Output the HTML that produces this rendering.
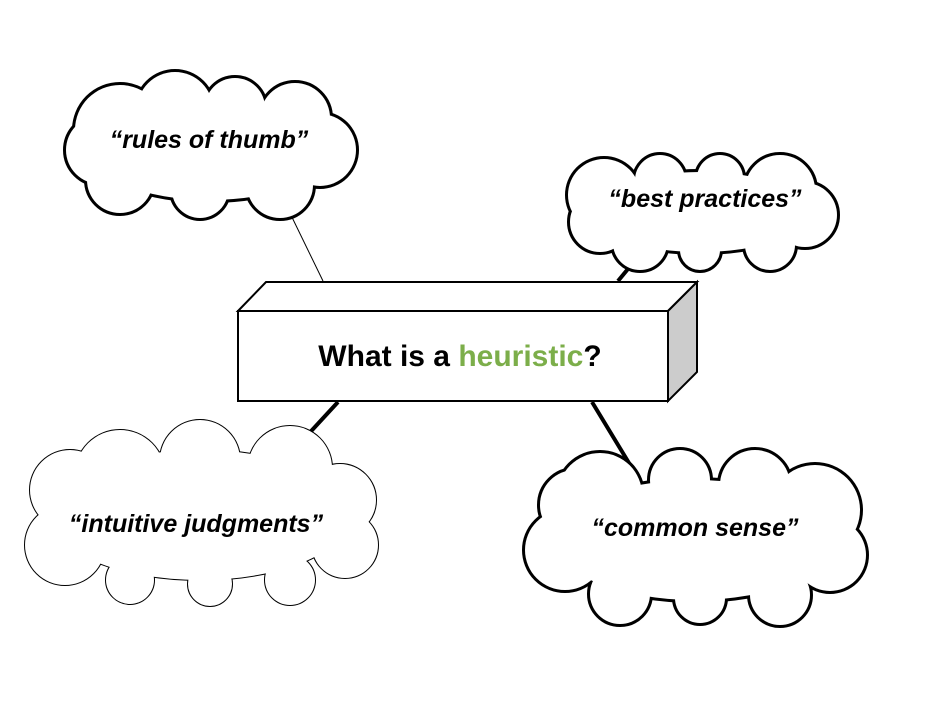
<!DOCTYPE html>
<html><head><meta charset="utf-8"><style>
html,body{margin:0;padding:0;background:#fff;width:941px;height:707px;overflow:hidden}
svg{display:block}
text{font-family:"Liberation Sans",sans-serif;font-weight:bold}
.c{font-style:italic;font-size:25px}
</style></head><body>
<svg width="941" height="707" viewBox="0 0 941 707">
<line x1="287" y1="207" x2="323" y2="281" stroke="#000" stroke-width="1"/>
<line x1="637" y1="258" x2="618" y2="281" stroke="#000" stroke-width="4"/>
<line x1="338" y1="402" x2="302" y2="441" stroke="#000" stroke-width="4"/>
<line x1="592" y1="402" x2="632" y2="468" stroke="#000" stroke-width="4"/>

<g stroke="#000" stroke-width="6" fill="#fff">
<ellipse cx="210" cy="150" rx="120" ry="50"/>
<circle cx="120" cy="130" r="45"/><circle cx="175" cy="110" r="38"/><circle cx="235" cy="108" r="30"/>
<circle cx="295" cy="118" r="35"/><circle cx="320" cy="150" r="36"/><circle cx="280" cy="185" r="33"/>
<circle cx="200" cy="190" r="28"/><circle cx="120" cy="180" r="33"/><circle cx="100" cy="150" r="34"/>
</g>
<g fill="#fff">
<ellipse cx="210" cy="150" rx="120" ry="50"/>
<circle cx="120" cy="130" r="45"/><circle cx="175" cy="110" r="38"/><circle cx="235" cy="108" r="30"/>
<circle cx="295" cy="118" r="35"/><circle cx="320" cy="150" r="36"/><circle cx="280" cy="185" r="33"/>
<circle cx="200" cy="190" r="28"/><circle cx="120" cy="180" r="33"/><circle cx="100" cy="150" r="34"/>
</g>

<g stroke="#000" stroke-width="6" fill="#fff">
<ellipse cx="700" cy="212" rx="110" ry="40"/>
<circle cx="604" cy="195" r="36"/><circle cx="660" cy="180" r="25"/><circle cx="720" cy="178" r="23"/>
<circle cx="780" cy="190" r="35"/><circle cx="805" cy="215" r="32"/><circle cx="770" cy="245" r="25"/>
<circle cx="700" cy="250" r="20"/><circle cx="640" cy="243" r="27"/><circle cx="600" cy="222" r="30"/>
</g>
<g fill="#fff">
<ellipse cx="700" cy="212" rx="110" ry="40"/>
<circle cx="604" cy="195" r="36"/><circle cx="660" cy="180" r="25"/><circle cx="720" cy="178" r="23"/>
<circle cx="780" cy="190" r="35"/><circle cx="805" cy="215" r="32"/><circle cx="770" cy="245" r="25"/>
<circle cx="700" cy="250" r="20"/><circle cx="640" cy="243" r="27"/><circle cx="600" cy="222" r="30"/>
</g>

<g stroke="#000" stroke-width="2" fill="#fff">
<ellipse cx="200" cy="515" rx="150" ry="65"/>
<circle cx="120" cy="475" r="45"/><circle cx="200" cy="460" r="40"/><circle cx="290" cy="468" r="42"/>
<circle cx="340" cy="500" r="36"/><circle cx="345" cy="545" r="33"/><circle cx="290" cy="580" r="25"/>
<circle cx="210" cy="584" r="22"/><circle cx="130" cy="580" r="24"/><circle cx="65" cy="545" r="40"/>
<circle cx="70" cy="490" r="40"/>
</g>
<g fill="#fff">
<ellipse cx="200" cy="515" rx="150" ry="65"/>
<circle cx="120" cy="475" r="45"/><circle cx="200" cy="460" r="40"/><circle cx="290" cy="468" r="42"/>
<circle cx="340" cy="500" r="36"/><circle cx="345" cy="545" r="33"/><circle cx="290" cy="580" r="25"/>
<circle cx="210" cy="584" r="22"/><circle cx="130" cy="580" r="24"/><circle cx="65" cy="545" r="40"/>
<circle cx="70" cy="490" r="40"/>
</g>

<g stroke="#000" stroke-width="6" fill="#fff">
<ellipse cx="695" cy="540" rx="140" ry="60"/>
<circle cx="600" cy="495" r="42"/><circle cx="680" cy="480" r="30"/><circle cx="755" cy="485" r="35"/>
<circle cx="815" cy="510" r="45"/><circle cx="830" cy="555" r="36"/><circle cx="780" cy="595" r="30"/>
<circle cx="700" cy="598" r="25"/><circle cx="620" cy="594" r="30"/><circle cx="565" cy="550" r="40"/>
<circle cx="575" cy="505" r="35"/>
</g>
<g fill="#fff">
<ellipse cx="695" cy="540" rx="140" ry="60"/>
<circle cx="600" cy="495" r="42"/><circle cx="680" cy="480" r="30"/><circle cx="755" cy="485" r="35"/>
<circle cx="815" cy="510" r="45"/><circle cx="830" cy="555" r="36"/><circle cx="780" cy="595" r="30"/>
<circle cx="700" cy="598" r="25"/><circle cx="620" cy="594" r="30"/><circle cx="565" cy="550" r="40"/>
<circle cx="575" cy="505" r="35"/>
</g>

<text class="c" x="209" y="148" text-anchor="middle">“rules of thumb”</text>
<text class="c" x="705" y="207" text-anchor="middle">“best practices”</text>
<text class="c" x="196" y="532" text-anchor="middle" font-size="26">“intuitive judgments”</text>
<text class="c" x="695" y="536" text-anchor="middle" font-size="26">“common sense”</text>

<polygon points="238,311 266,282 697,282 668,311" fill="#fff" stroke="#000" stroke-width="2"/>
<polygon points="668,311 697,282 697,372 668,401" fill="#ccc" stroke="#000" stroke-width="2"/>
<rect x="238" y="311" width="430" height="90" fill="#fff" stroke="#000" stroke-width="2"/>
<text x="460" y="366" text-anchor="middle" font-size="30"><tspan fill="#000">What is a </tspan><tspan fill="#7cae4a">heuristic</tspan><tspan fill="#000">?</tspan></text>
</svg>
</body></html>
